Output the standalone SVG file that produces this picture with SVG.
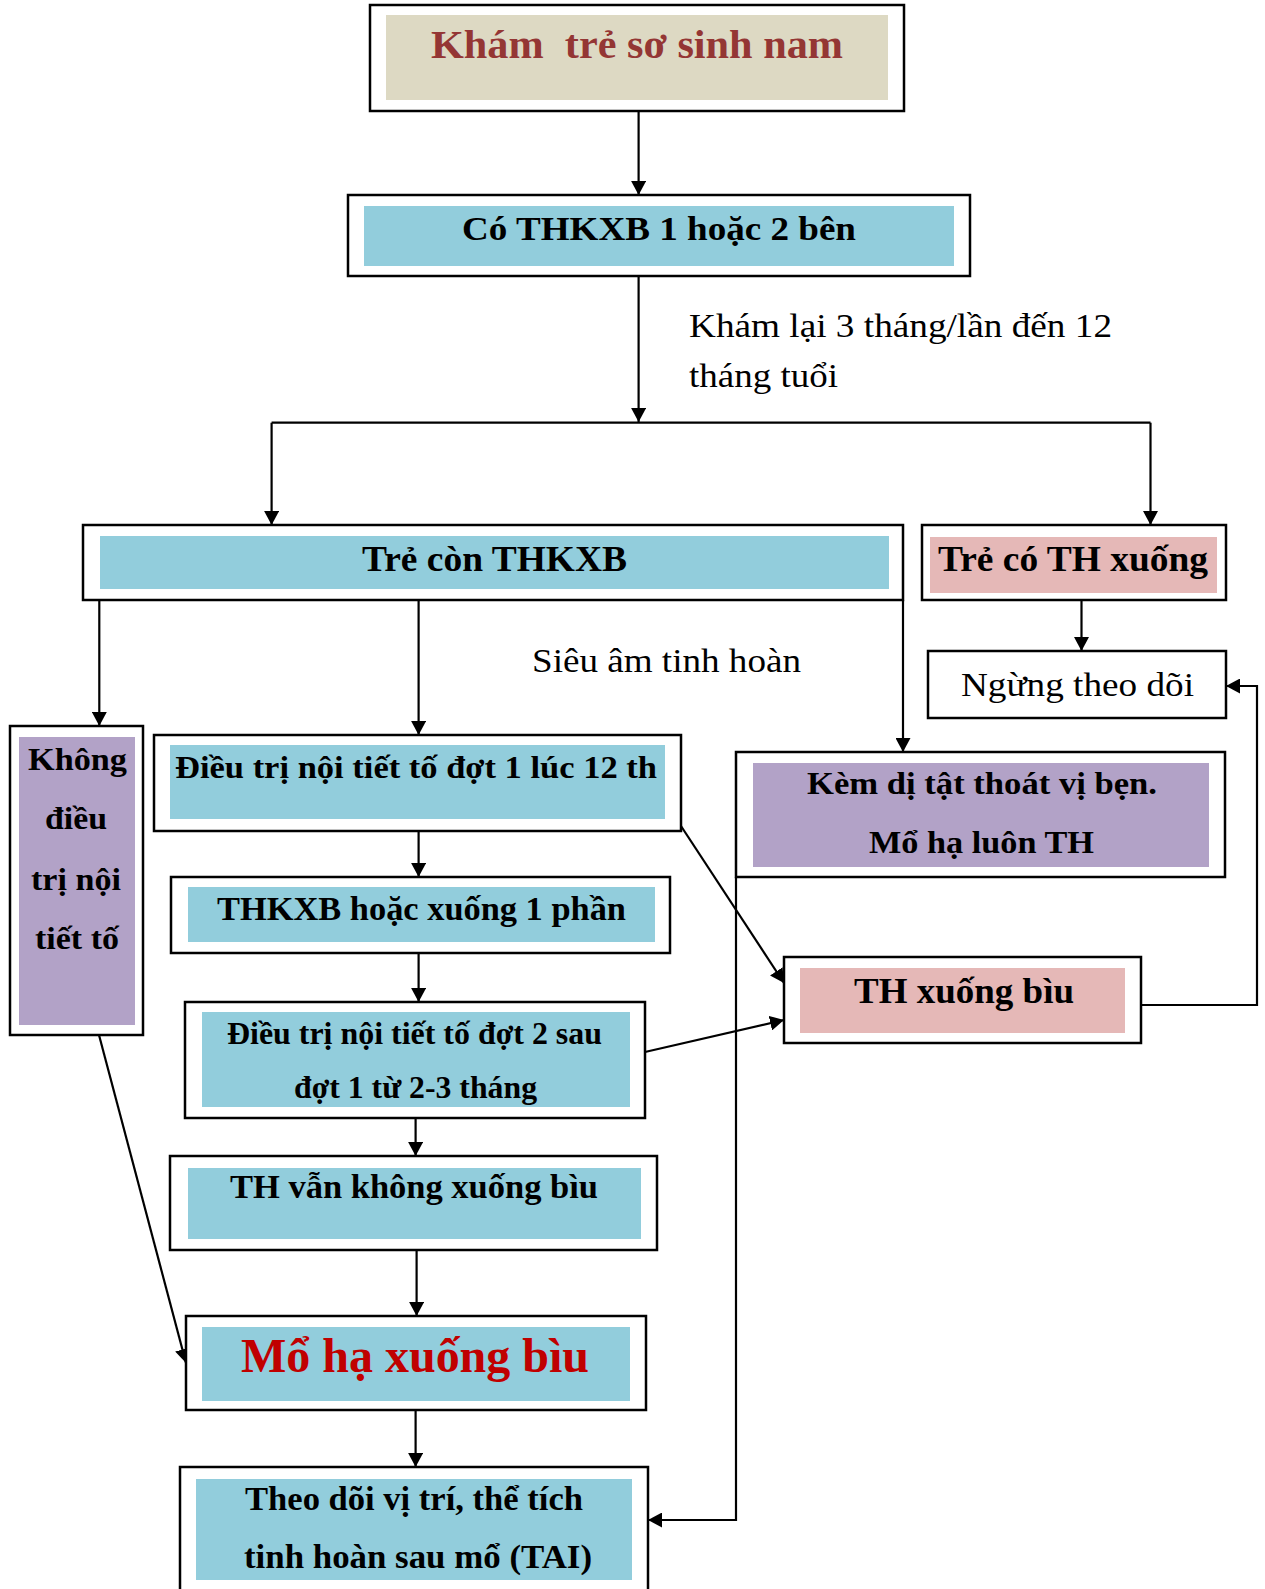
<svg xmlns="http://www.w3.org/2000/svg" width="1265" height="1589" viewBox="0 0 1265 1589">
<style>
.outer{fill:#fff;stroke:#000;stroke-width:2.5}
.blue{fill:#92CDDC}
.tan{fill:#DDD9C3}
.pink{fill:#E5B8B7}
.purple{fill:#B2A2C7}
.b{font-family:"Liberation Serif","Times New Roman",serif;font-weight:bold;fill:#000}
.r{font-family:"Liberation Serif","Times New Roman",serif;font-weight:normal;fill:#000}
.conn{stroke:#000;stroke-width:2.2;fill:none}
</style>
<defs>
<marker id="ah" viewBox="0 0 14 15" refX="14" refY="7.5" markerWidth="14" markerHeight="15" markerUnits="userSpaceOnUse" orient="auto">
<path d="M0,0 L14,7.5 L0,15 z" fill="#000"/>
</marker>
</defs>
<rect width="1265" height="1589" fill="#fff"/>

<g id="connectors">
<path class="conn" d="M638.6,111 V195" marker-end="url(#ah)"/>
<path class="conn" d="M638.6,276 V422" marker-end="url(#ah)"/>
<path class="conn" d="M271.6,422.7 H1150.5"/>
<path class="conn" d="M271.6,422.7 V525" marker-end="url(#ah)"/>
<path class="conn" d="M1150.5,422.7 V525" marker-end="url(#ah)"/>
<path class="conn" d="M99.3,600 V726" marker-end="url(#ah)"/>
<path class="conn" d="M418.6,600 V735" marker-end="url(#ah)"/>
<path class="conn" d="M903,600 V752" marker-end="url(#ah)"/>
<path class="conn" d="M1081.5,600 V651" marker-end="url(#ah)"/>
<path class="conn" d="M418.6,831 V877" marker-end="url(#ah)"/>
<path class="conn" d="M418.6,953 V1002" marker-end="url(#ah)"/>
<path class="conn" d="M415.6,1118 V1156" marker-end="url(#ah)"/>
<path class="conn" d="M416.6,1250 V1316" marker-end="url(#ah)"/>
<path class="conn" d="M415.6,1410 V1467" marker-end="url(#ah)"/>
<path class="conn" d="M99,1035 L186,1363" marker-end="url(#ah)"/>
<path class="conn" d="M681,826 L784,983" marker-end="url(#ah)"/>
<path class="conn" d="M645,1052 L784,1020" marker-end="url(#ah)"/>
<path class="conn" d="M1141,1005 H1257 V686 H1226" marker-end="url(#ah)"/>
<path class="conn" d="M736,877 V1520 H648" marker-end="url(#ah)"/>
</g>

<g id="n1">
<rect class="outer" x="370" y="5" width="534" height="106"/>
<rect class="tan" x="386" y="15" width="502" height="85"/>
<text class="b" x="431" y="58" font-size="40" style="fill:#943634;white-space:pre" xml:space="preserve" textLength="412" lengthAdjust="spacingAndGlyphs">Khám  trẻ sơ sinh nam</text>
</g>

<g id="n2">
<rect class="outer" x="348" y="195" width="622" height="81"/>
<rect class="blue" x="364" y="206" width="590" height="60"/>
<text class="b" x="462" y="240" font-size="34" textLength="394" lengthAdjust="spacingAndGlyphs">Có THKXB 1 hoặc 2 bên</text>
</g>

<g id="label-kham-lai">
<text class="r" x="689" y="337" font-size="34" textLength="423" lengthAdjust="spacingAndGlyphs">Khám lại 3 tháng/lần đến 12</text>
<text class="r" x="689" y="387" font-size="34" textLength="149" lengthAdjust="spacingAndGlyphs">tháng tuổi</text>
</g>

<g id="n3">
<rect class="outer" x="83" y="525" width="820" height="75"/>
<rect class="blue" x="100" y="536" width="789" height="53"/>
<text class="b" x="362" y="571" font-size="35" textLength="265" lengthAdjust="spacingAndGlyphs">Trẻ còn THKXB</text>
</g>

<g id="n4">
<rect class="outer" x="922" y="525" width="304" height="75"/>
<rect class="pink" x="930" y="537" width="287" height="56"/>
<text class="b" x="938" y="571" font-size="36" textLength="270" lengthAdjust="spacingAndGlyphs">Trẻ có TH xuống</text>
</g>

<g id="n5">
<rect class="outer" x="928" y="651" width="298" height="67"/>
<text class="r" x="961" y="696" font-size="34" textLength="233" lengthAdjust="spacingAndGlyphs">Ngừng theo dõi</text>
</g>

<g id="label-sieu-am">
<text class="r" x="532" y="672" font-size="34" textLength="269" lengthAdjust="spacingAndGlyphs">Siêu âm tinh hoàn</text>
</g>

<g id="n6">
<rect class="outer" x="10" y="726" width="133" height="309"/>
<rect class="purple" x="19" y="737" width="116" height="288"/>
<text class="b" x="28" y="770" font-size="31" textLength="99" lengthAdjust="spacingAndGlyphs">Không</text>
<text class="b" x="45" y="829" font-size="31" textLength="62" lengthAdjust="spacingAndGlyphs">điều</text>
<text class="b" x="31" y="890" font-size="31" textLength="90" lengthAdjust="spacingAndGlyphs">trị nội</text>
<text class="b" x="35" y="949" font-size="31" textLength="84" lengthAdjust="spacingAndGlyphs">tiết tố</text>
</g>

<g id="n7">
<rect class="outer" x="154" y="735" width="527" height="96"/>
<rect class="blue" x="170" y="745" width="495" height="74"/>
<text class="b" x="175" y="778" font-size="31" textLength="482" lengthAdjust="spacingAndGlyphs">Điều trị nội tiết tố đợt 1 lúc 12 th</text>
</g>

<g id="n8">
<rect class="outer" x="171" y="877" width="499" height="76"/>
<rect class="blue" x="188" y="887" width="467" height="55"/>
<text class="b" x="217" y="920" font-size="33" textLength="409" lengthAdjust="spacingAndGlyphs">THKXB hoặc xuống 1 phần</text>
</g>

<g id="n9">
<rect class="outer" x="185" y="1002" width="460" height="116"/>
<rect class="blue" x="202" y="1012" width="428" height="95"/>
<text class="b" x="227" y="1044" font-size="32" textLength="375" lengthAdjust="spacingAndGlyphs">Điều trị nội tiết tố đợt 2 sau</text>
<text class="b" x="294" y="1098" font-size="32" textLength="243" lengthAdjust="spacingAndGlyphs">đợt 1 từ 2-3 tháng</text>
</g>

<g id="n10">
<rect class="outer" x="170" y="1156" width="487" height="94"/>
<rect class="blue" x="188" y="1168" width="453" height="71"/>
<text class="b" x="230" y="1198" font-size="33" textLength="368" lengthAdjust="spacingAndGlyphs">TH vẫn không xuống bìu</text>
</g>

<g id="n11">
<rect class="outer" x="186" y="1316" width="460" height="94"/>
<rect class="blue" x="202" y="1327" width="428" height="74"/>
<text class="b" x="241" y="1372" font-size="48" style="fill:#C00000" textLength="348" lengthAdjust="spacingAndGlyphs">Mổ hạ xuống bìu</text>
</g>

<g id="n12">
<rect class="outer" x="180" y="1467" width="468" height="130"/>
<rect class="blue" x="196" y="1479" width="436" height="101"/>
<text class="b" x="245" y="1510" font-size="33" textLength="338" lengthAdjust="spacingAndGlyphs">Theo dõi vị trí, thể tích</text>
<text class="b" x="244" y="1568" font-size="33" textLength="348" lengthAdjust="spacingAndGlyphs">tinh hoàn sau mổ (TAI)</text>
</g>

<g id="n13">
<rect class="outer" x="736" y="752" width="489" height="125"/>
<rect class="purple" x="753" y="763" width="456" height="104"/>
<text class="b" x="807" y="794" font-size="32" textLength="350" lengthAdjust="spacingAndGlyphs">Kèm dị tật thoát vị bẹn.</text>
<text class="b" x="869" y="853" font-size="32" textLength="225" lengthAdjust="spacingAndGlyphs">Mổ hạ luôn TH</text>
</g>

<g id="n14">
<rect class="outer" x="784" y="957" width="357" height="86"/>
<rect class="pink" x="800" y="968" width="325" height="65"/>
<text class="b" x="854" y="1003" font-size="36" textLength="220" lengthAdjust="spacingAndGlyphs">TH xuống bìu</text>
</g>
</svg>
